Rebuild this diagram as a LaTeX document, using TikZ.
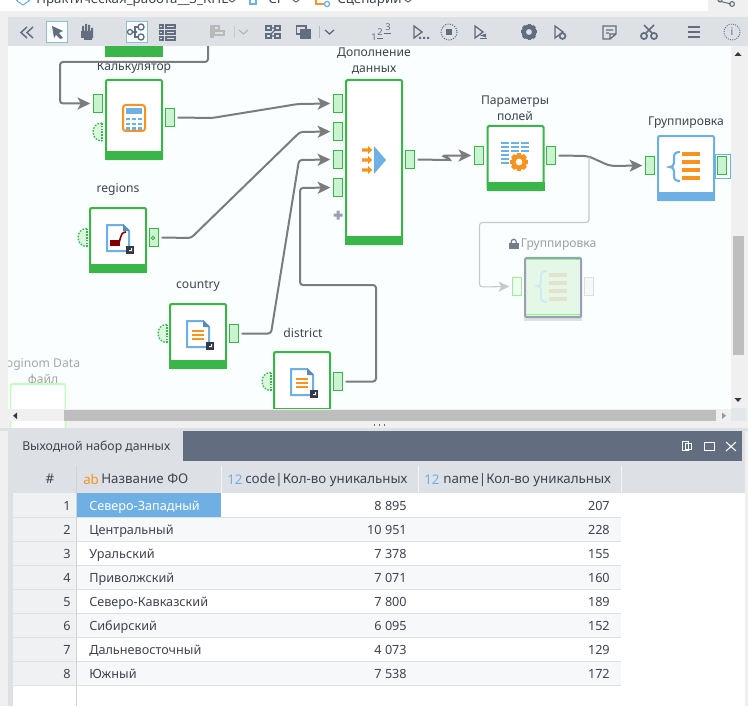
\documentclass[tikz,border=0pt]{standalone}
\usepackage{fontspec}
\setmainfont{Noto Sans}
\usetikzlibrary{arrows.meta}
\definecolor{ngreen}{HTML}{39B54A}
\definecolor{pgreen}{HTML}{CAF4D0}
\definecolor{nblue}{HTML}{6FB0E4}
\definecolor{norange}{HTML}{F7931E}
\definecolor{wire}{HTML}{7C7C7C}
\definecolor{wirelight}{HTML}{C6C8CA}
\definecolor{canvasbg}{HTML}{FAFEFE}
\definecolor{pagebg}{HTML}{F0F0F1}
\definecolor{barbg}{HTML}{DDE0E5}
\definecolor{slate}{HTML}{626D7F}
\definecolor{txt}{HTML}{3E4450}
\definecolor{thumb}{HTML}{BEBEBE}
\definecolor{altrow}{HTML}{F7F8FA}
\definecolor{numcol}{HTML}{F0F1F3}
\definecolor{dark}{HTML}{333947}
\definecolor{offfill}{HTML}{E5F8E8}
\definecolor{offedge}{HTML}{9A9FB3}
\tikzset{
  opbox/.style={draw=ngreen,line width=1.5pt,fill=white,minimum width=42pt,minimum height=48pt,rounded corners=1pt,inner sep=0pt},
  bluebox/.style={opbox,draw=nblue},
  port/.style={draw=ngreen,fill=pgreen,line width=.7pt,minimum width=7pt,minimum height=14pt,inner sep=0pt,outer sep=2.3pt},
  lbl/.style={text=txt,font=\fontsize{9.1pt}{12pt}\selectfont,inner sep=0pt,align=center},
  cell/.style={text=txt,font=\fontsize{9.5pt}{11pt}\selectfont,inner sep=0pt},
  head/.style={cell,anchor=base west,font=\fontsize{10pt}{12pt}\selectfont},
  conn/.style={draw=wire,line width=1.5pt,rounded corners=2.2pt,-{Stealth[length=9.5pt,width=9pt,inset=2.4pt]}},
  connlight/.style={draw=wirelight,line width=.8pt,rounded corners=2.2pt,-{Stealth[length=8pt,width=7.5pt,inset=2pt]}},
  icon/.style={draw=slate,line width=1pt},
}
\newcommand\opbar[2]{\fill[#2] (#1.south west) rectangle ([yshift=6.75pt]#1.south east);}
\newcommand\inport[2]{%
  \fill[pgreen!70!white] (#1,#2-9) .. controls (#1-12,#2-9) and (#1-12,#2+9) .. (#1,#2+9) -- cycle;
  \draw[ngreen,line width=1pt,dash pattern=on 1.2pt off 1.1pt] (#1,#2-9) .. controls (#1-12,#2-9) and (#1-12,#2+9) .. (#1,#2+9);
  \draw[ngreen,line width=1.2pt,dash pattern=on 1.2pt off .9pt] (#1,#2-9) -- (#1,#2+9);}
\newcommand\docicon[2]{% x0,y0 = top left
  \begin{scope}[shift={(#1,#2)}]
    \draw[nblue,line width=1.5pt,fill=white] (1,1) -- (17,1) -- (23,7) -- (23,27) -- (1,27) -- cycle;
    \fill[nblue!80!black] (17,0) -- (24,7) -- (17,7) -- cycle;
    \fill[dark] (20,22) rectangle (28,30);
    \fill[white] (23,27) -- (26,27) -- (26,24) -- (25,24) -- (25,26) -- (23,26) -- cycle;
  \end{scope}}
\begin{document}
\begin{tikzpicture}[x=.75pt,y=-.75pt]
\useasboundingbox (0,0) rectangle (748,706);
\clip (0,0) rectangle (748,706);
\fill[pagebg] (0,0) rectangle (748,706);
% top strip
\fill[white] (0,0) rectangle (708,11);
\node[anchor=base west,lbl,text=txt,font=\fontsize{10pt}{12pt}\selectfont] (tabA) at (36,3.5) {Практическая\_работа\_\_3\_КНЕ};
\node[anchor=base west,lbl,font=\fontsize{10pt}{12pt}\selectfont] (tabB) at (268,3.5) {СГ};
\node[anchor=base west,lbl,font=\fontsize{10pt}{12pt}\selectfont] (tabC) at (337,3.5) {Сценарии};
\draw[nblue,line width=.8pt] (17,1) -- (23,5) -- (29,1);
\draw[nblue,line width=.8pt] (17,-3) -- (17,1) (29,-3) -- (29,1);
\draw[slate,line width=.8pt] (229,0) -- (232,2) -- (235,0) (293,0) -- (296,2) -- (299,0) (405,0) -- (408,2) -- (411,0);
\draw[nblue,line width=1pt] (250,-2) rectangle (256,4);
\draw[norange,line width=1pt] (316,0) -- (316,4) -- (324,4);
\draw[nblue,line width=1pt,fill=white] (327,4) circle (2.6);
\draw[slate,line width=.8pt] (719,1) -- (731,4);
\draw[slate,line width=.8pt] (732,4) circle (2.4) (720,0) circle (2);
% canvas
\fill[canvasbg] (8,46) rectangle (731,409);
% nodes
\fill[ngreen] (105,46) rectangle (163,57);
\coordinate (prevout) at (208,44);
\node[opbox,minimum height=59.25pt] (calc) at (134,119.5) {};
\opbar{calc}{ngreen}
\node[port] (calcL) at (98,103.5) {};
\node[port] (calcR) at (170,117.5) {};
\node[lbl] (calcT) at (134,67.5) {Калькулятор};
\inport{102}{132}
\draw[norange,line width=1.5pt,fill=white,rounded corners=2pt] (123,105) rectangle (145,131);
\fill[nblue] (126,108) rectangle (142,114);
\foreach \yy in {118,123,127.5}\foreach \xx in {126,132,138}{\fill[nblue] (\xx,\yy) rectangle (\xx+4.2,\yy+2.4);}

\node[opbox,minimum height=123pt] (add) at (374,162) {};
\opbar{add}{ngreen}
\node[lbl] (addT) at (374,61.5) {Дополнение\\данных};
\node[port] (addA) at (338,103.5) {};
\node[port] (addB) at (338,131.5) {};
\node[port] (addC) at (338,159.5) {};
\node[port] (addD) at (338,187.5) {};
\node[port] (addR) at (410,159.5) {};
\fill[nblue] (374,146) -- (386,160) -- (374,174) -- cycle;
\foreach \yy in {150,160,170}{\fill[norange] (362,\yy-1.6) -- (368,\yy-1.6) -- (368,\yy-4) -- (372,\yy) -- (368,\yy+4) -- (368,\yy+1.6) -- (362,\yy+1.6) -- cycle;}
\fill[offedge] (333.5,213.5) rectangle (342.5,216.5) (336.5,210.5) rectangle (339.5,219.5);

\node[opbox] (reg) at (118,240) {};
\opbar{reg}{ngreen}
\node[lbl] (regT) at (118,189) {regions};
\node[port] (regR) at (154,237.5) {};
\draw[ngreen,line width=.7pt] (153,238) circle (1.7);
\inport{87}{237.5}
\docicon{106}{224}
\fill[red!50!black] (110,240) rectangle (120,246);
\draw[red!50!black,line width=1.2pt] (119,243) .. controls (122,232) and (122,233) .. (126,232);

\node[opbox] (cty) at (198,336) {};
\opbar{cty}{ngreen}
\node[lbl] (ctyT) at (198,286) {country};
\node[port] (ctyR) at (234,333.5) {};
\inport{167}{333.5}
\docicon{186}{320}
\foreach \yy in {331,335,339}{\fill[norange] (192,\yy-.9) rectangle (204,\yy+.9);}

\node[opbox] (dis) at (302,384) {};
\opbar{dis}{ngreen}
\node[lbl] (disT) at (303,333) {district};
\node[port] (disR) at (338,381.5) {};
\inport{271}{381.5}
\docicon{290}{368}
\foreach \yy in {379,383,387}{\fill[norange] (296,\yy-.9) rectangle (308,\yy+.9);}

\node[opbox] (par) at (515.5,158) {};
\opbar{par}{ngreen}
\node[lbl] (parT) at (515,108) {Параметры\\полей};
\node[port] (parL) at (479,155.5) {};
\node[port] (parR) at (551,155.5) {};
\foreach \yy in {142,146,150,154,158,162}{\fill[nblue] (501,\yy) rectangle (509,\yy+2);}
\foreach \yy in {142,146,150}{\fill[nblue] (511,\yy) rectangle (519,\yy+2);\fill[nblue] (521,\yy) rectangle (529,\yy+2);}
\foreach \a in {0,45,...,315}{\fill[norange,rotate around={\a:(519,162)}] (517,153) rectangle (521,171);}
\fill[norange] (519,162) circle (5.9pt);
\fill[white] (519,162) circle (2.5pt);

\node[bluebox] (grp) at (686,168) {};
\opbar{grp}{nblue}
\node[lbl] (grpT) at (686,122.5) {Группировка};
\node[port] (grpL) at (650,165.5) {};
\draw[nblue,line width=.7pt,fill=canvasbg] (715.5,154.5) rectangle (730.5,178);
\node[port] (grpR) at (722,165.5) {};
\draw[nblue,line width=1.6pt] (680,152) .. controls (675,152) and (674,154) .. (674,158) -- (674,163) .. controls (674,166) and (672,167) .. (669.5,167) .. controls (672,167) and (674,168) .. (674,171) -- (674,175) .. controls (674,179) and (675,181) .. (680,181);
\foreach \yy in {152,160,168,176}{\fill[norange] (682,\yy) rectangle (700,\yy+4);}

% disabled node
\fill[barbg] (524,317) rectangle (582,321);
\node[draw=offedge,line width=1.5pt,fill=offfill,minimum width=42pt,minimum height=44.5pt,rounded corners=1pt,inner sep=0pt] (off) at (553,287.5) {};
\draw[green!50!white,line width=.6pt] (526,259.5) -- (580,259.5) (526,314.5) -- (580,314.5);
\node[port,draw=green!40!white!90!gray,fill=green!6!white] (offL) at (517,286.5) {};
\node[port,draw=gray!25,fill=gray!6] (offR) at (589,286.5) {};
\node[lbl,text=gray!75,anchor=west] (offT) at (520.5,244.5) {Группировка};
\fill[slate!90] (509,243) rectangle (518.5,249);
\draw[slate!90,line width=.9pt] (511,243) .. controls (511,238) and (516.5,238) .. (516.5,243);
\draw[cyan!15!white!90!gray,line width=1.6pt] (547,271) .. controls (542,271) and (541,273) .. (541,277) -- (541,282) .. controls (541,285) and (539,286) .. (537,286) .. controls (539,286) and (541,287) .. (541,290) -- (541,296) .. controls (541,300) and (542,302) .. (547,302);
\foreach \yy in {273,281,289,297}{\fill[yellow!30!gray!35!white] (549,\yy) rectangle (567,\yy+4);}

% grey data file
\node[lbl,text=gray!70,anchor=north] (fileT) at (43,358.5) {oginom Data\\файл};
\node[draw=green!25!white,line width=1.2pt,fill=white,minimum width=41pt,minimum height=48pt,rounded corners=1pt,inner sep=0pt] (file) at (38,416) {};
% left canvas mask for clipped label
\fill[pagebg] (0,46) rectangle (8,430);

% connectors
\draw[conn] (prevout) -- (208,62) -- (60,62) -- (60,103.5) -- (calcL.west);
\draw[conn] (calcR.east) -- (212,118) -- (298,104) -- (addA.west);
\draw[conn] (regR.east) -- (191,238) -- (300,132) -- (addB.west);
\draw[conn] (ctyR.east) -- (271,333.5) -- (299,160) -- (addC.west);
\draw[conn] (disR.east) -- (376,381.5) -- (376,285) -- (300,285) -- (300,188) -- (addD.west);
\draw[conn] (addR.east) -- (447,160) .. controls (449,160) and (449,158.5) .. (446,157.5) .. controls (443,156) and (444,155.5) .. (449,155.5) -- (parL.west);
\draw[conn,rounded corners=4pt] (parR.east) -- (588,156) -- (610,166) -- (grpL.west);
\draw[connlight] (589,157) -- (589,222.5) -- (479.5,222.5) -- (479.5,287) -- (offL.west);

% scrollbars
\fill[pagebg] (731,46) rectangle (748,424);
\fill[pagebg] (8,409) rectangle (731,421);
\fill[thumb] (64,410) rectangle (716,421);
\fill[thumb] (733,236) rectangle (744,355);
\fill[dark] (734.5,56) -- (738,52) -- (741.5,56) -- cycle;
\fill[dark] (734.5,398) -- (738,402) -- (741.5,398) -- cycle;
\fill[dark] (17,412.5) -- (17,419) -- (13,415.7) -- cycle;
\fill[gray!80] (722,412.5) -- (722,419) -- (726,415.7) -- cycle;
\fill[barbg!60!pagebg] (731,408) rectangle (746,421);
\fill[barbg] (0,428) rectangle (748,431);
\foreach \xx in {374,379,384}{\draw[slate,line width=.7pt] (\xx,424) -- (\xx,426);}

% toolbar
\fill[barbg] (8,17) rectangle (748,46);
\draw[slate,line width=1.1pt] (27,27) -- (21,32.5) -- (27,38) (33,27) -- (27,32.5) -- (33,38);
\draw[cyan!40!gray!70,line width=.8pt,fill=white!60!cyan!8] (46.5,21.5) rectangle (67.5,42.5);
\fill[slate] (52,26) -- (63,31) -- (59,33) -- (63,38) -- (60,39) -- (56,35) -- (54,38) -- cycle;
\fill[slate] (81,31) rectangle (93,38) (82,26) rectangle (84,33) (85,24) rectangle (87,32) (88,25) rectangle (90,32) (91,28) rectangle (93,33) (84,37) rectangle (92,40);
\draw[cyan!40!gray!70,line width=.8pt,fill=white!60!cyan!8] (126.5,21.5) rectangle (147.5,42.5);
\draw[icon] (130,32) circle (2.5) (141,27) circle (3) (141,37) circle (3);
\draw[icon] (133,32) -- (137,32) (138,27) -- (135,27) -- (135,37) -- (138,37);
\draw[icon] (159.5,25) rectangle (163,28) (159.5,31) rectangle (163,34) (159.5,37) rectangle (163,40);
\draw[icon] (166,25) rectangle (175,28) (166,31) rectangle (175,34) (166,37) rectangle (175,40);
\fill[gray!55] (210,25) rectangle (214,38.5);
\draw[gray!55,line width=.8pt] (214,26) rectangle (219,30) (214,31) rectangle (224,35);
\draw[gray!45,line width=.7pt] (234,26) -- (234,38);
\draw[gray!60,line width=.8pt] (239,30) -- (243.5,34) -- (248,30);
\draw[icon] (266,26) rectangle (271,30) (275,26) rectangle (280,30) (266,34) rectangle (271,38) (275,34) rectangle (280,38);
\draw[icon] (271,28) -- (275,28) (271,36) -- (275,36) (275,30) -- (271,34);
\draw[icon,line width=.9pt] (296.5,26) rectangle (306,34);
\fill[slate] (300,29.5) rectangle (310.5,39.5);
\draw[gray!55,line width=.7pt] (319,26) -- (319,38);
\draw[dark!80,line width=.9pt] (325,30) -- (329.5,34) -- (334,30);
\node[inner sep=0pt,text=slate,font=\fontsize{7pt}{8pt}\selectfont] (tbA) at (374,37) {1};
\node[inner sep=0pt,text=slate,font=\fontsize{7pt}{8pt}\selectfont] (tbB) at (380,32) {2};
\node[inner sep=0pt,text=slate,font=\fontsize{7pt}{8pt}\selectfont] (tbC) at (388,27) {3};
\draw[slate,line width=.6pt] (377,38) -- (383,38) (384,33) -- (391,33);
\draw[icon] (414,26) -- (422,32) -- (414,38) -- cycle;
\fill[slate] (419,37) rectangle (421,39) (423,37) rectangle (425,39) (427,37) rectangle (429,39);
\draw[slate,line width=.8pt,densely dotted] (449,32) circle (8);
\fill[slate] (446,29) rectangle (452,35);
\draw[icon] (475,26) -- (483,32) -- (475,38) -- cycle;
\fill[slate] (480,35.5) -- (486,33.5) -- (486,37.5) -- cycle;
\draw[slate,line width=.8pt] (480,38.5) -- (487,38.5);
\foreach \a in {0,45,...,315}{\fill[slate,rotate around={\a:(529,32)}] (527.5,24) rectangle (530.5,40);}
\fill[slate] (529,32) circle (5.6pt);
\fill[barbg] (529,32) circle (2.2pt);
\draw[icon] (555,26) -- (563,32) -- (555,38) -- cycle;
\draw[slate,line width=1.3pt] (562.5,36) circle (2.2pt);
\draw[icon] (603,26) -- (616,26) -- (616,34) -- (610,39) -- (603,39) -- cycle (616,34) -- (610,34) -- (610,39) (606,30) -- (613,30) (606,33) -- (609,33);
\draw[slate,line width=1.3pt] (644,36) circle (2.3pt) (654,36) circle (2.3pt);
\draw[slate,line width=1.3pt] (646,33) -- (654,25) (652,33) -- (644,25);
\foreach \yy in {27,32,37}{\fill[slate] (688,\yy-1.2) rectangle (700,\yy+1.2);}
\draw[slate,line width=.7pt,densely dotted] (732,32) circle (8);
\node[inner sep=0pt,text=slate,font=\bfseries\fontsize{8pt}{9pt}\selectfont] (tbI) at (732,32) {i};

% bottom panel
\fill[barbg] (8,431) rectangle (748,706);
\fill[pagebg] (745,431) rectangle (748,706);
\fill[white] (13,493) rectangle (745,706);
\fill[slate] (183,431) rectangle (742,461);
\node[cell,anchor=west,font=\fontsize{9.2pt}{11pt}\selectfont] (tabT) at (22,447.5) {Выходной набор данных};
\draw[white,line width=.75pt] (682,441) rectangle (688,450) (685,443) rectangle (691,449);
\draw[white,line width=.75pt] (704,442) rectangle (714,450);
\draw[white,line width=.75pt] (726,442) -- (736,451) (736,442) -- (726,451);
% grid
\fill[numcol] (13,493) rectangle (76,685);
\foreach \i in {2,4,6,8}{\fill[altrow] (77,493+24*\i-24) rectangle (621,493+24*\i);}
\foreach \i in {1,...,8}{\draw[barbg,line width=.75pt] (13,493+24*\i) -- (621,493+24*\i);}
\fill[nblue] (77,493) rectangle (221,517);
\draw[barbg!85!gray,line width=.75pt] (76.5,466) -- (76.5,706);
\draw[white!70!barbg,line width=.6pt] (221,466) -- (221,493) (418,466) -- (418,493) (621,466) -- (621,493);
\node[cell,font=\fontsize{10pt}{12pt}\selectfont] (hA) at (50,479) {\#};
\node[head,text=norange,font=\bfseries\fontsize{10pt}{12pt}\selectfont] (hB) at (83,484) {ab};
\node[head] (hC) at (101,483.5) {Название ФО};
\node[head,text=nblue] (hD) at (227,484) {12};
\node[head] (hE) at (245,483.5) {code|Кол-во уникальных};
\node[head,text=nblue] (hF) at (424,484) {12};
\node[head] (hG) at (443,483.5) {name|Кол-во уникальных};
\foreach \i/\nm/\va/\vb in {1/Северо-Западный/8 895/207,2/Центральный/10 951/228,3/Уральский/7 378/155,4/Приволжский/7 071/160,5/Северо-Кавказский/7 800/189,6/Сибирский/6 095/152,7/Дальневосточный/4 073/129,8/Южный/7 538/172}{
  \node[cell,anchor=base east] (n\i) at (71,505+24*\i-24+5) {\i};
  \ifnum\i=1
    \node[cell,anchor=base west,text=white] (f\i) at (89,505+24*\i-24+5) {\nm};
  \else
    \node[cell,anchor=base west] (f\i) at (89,505+24*\i-24+5) {\nm};
  \fi
  \node[cell,anchor=base east] (a\i) at (407,505+24*\i-24+5) {\va};
  \node[cell,anchor=base east] (b\i) at (610,505+24*\i-24+5) {\vb};
}
\end{tikzpicture}
\end{document}
